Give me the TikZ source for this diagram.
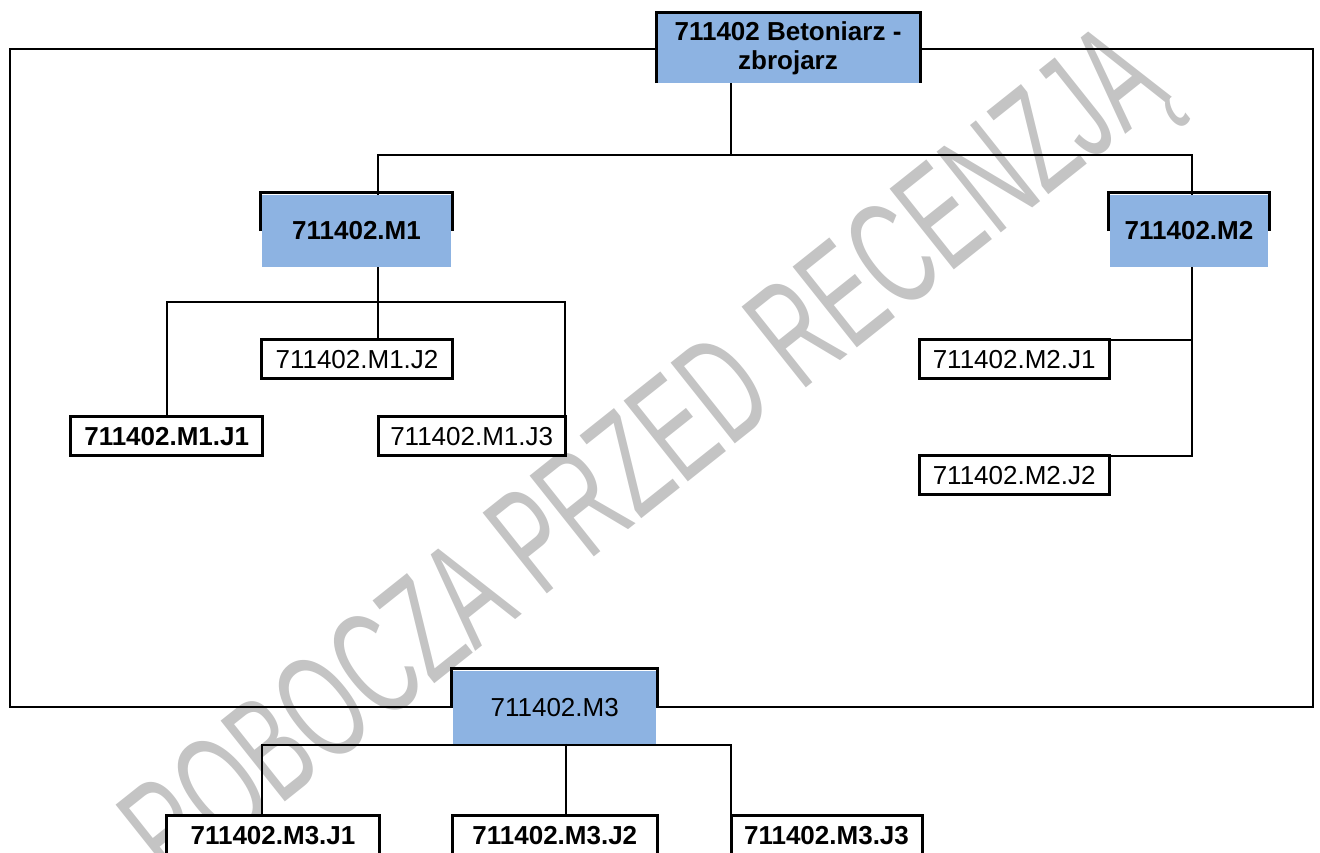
\documentclass[tikz,border=0pt]{standalone}
\usepackage{fontspec}
\setmainfont{Liberation Sans}
\newfontfamily\znakfont{Liberation Sans}[FakeStretch=0.6]
\usepackage{tikz}
\usetikzlibrary{calc,positioning}
\definecolor{modblue}{HTML}{8DB3E2}
\definecolor{znakgray}{HTML}{C4C4C4}
\newcommand{\rozmiar}{\fontsize{26}{29}\selectfont}

\tikzset{
  modul/.style={fill=modblue, inner sep=0pt, outer sep=0pt, align=center, minimum height=72.6pt},
  jedn/.style={draw, line width=3pt, fill=white, inner sep=0pt, outer sep=0pt, minimum height=39pt, font=\rozmiar},
  ramka/.style={line width=3pt},
  linia/.style={line width=2pt},
}

\begin{document}
\begin{tikzpicture}[x=1pt, y=-1pt]
\useasboundingbox (0,0) rectangle (1320,852);
\clip (0,0) rectangle (1320,852);

% znak wodny
\node[rotate=38.5, text=znakgray, font=\znakfont\fontsize{150}{150}\selectfont] (znak) at (650,465) {ROBOCZA PRZED RECENZJĄ};

% moduly
\node[modul, minimum width=262pt, minimum height=69pt, font=\rozmiar\bfseries] (root) at (788,48.5) {711402 Betoniarz -\\zbrojarz};
\node[modul, minimum width=189pt, font=\rozmiar\bfseries] (M1) at (356.5,231) {711402.M1};
\node[modul, minimum width=158pt, font=\rozmiar\bfseries] (M2) at (1189,231) {711402.M2};
\node[modul, minimum width=203pt, font=\rozmiar] (M3) at (554.7,707.2) {711402.M3};

% jednostki M1
\node[jedn, minimum width=192pt, font=\rozmiar\bfseries] (M1J1) at (166.7,436.2) {711402.M1.J1};
\node[jedn, minimum width=190.6pt] (M1J2) at (357,359.2) {711402.M1.J2};
\node[jedn, minimum width=186.7pt] (M1J3) at (471.7,436.2) {711402.M1.J3};
% jednostki M2
\node[jedn, minimum width=189.7pt] (M2J1) at (1014.2,359.3) {711402.M2.J1};
\node[jedn, minimum width=189.7pt] (M2J2) at (1014.2,475.3) {711402.M2.J2};
% jednostki M3
\node[jedn, minimum width=212.6pt, minimum height=40pt, font=\rozmiar\bfseries] (M3J1) at (273,835.7) {711402.M3.J1};
\node[jedn, minimum width=205pt, minimum height=40pt, font=\rozmiar\bfseries] (M3J2) at (554.8,835.5) {711402.M3.J2};
\node[jedn, minimum width=191pt, minimum height=40pt, font=\rozmiar\bfseries] (M3J3) at (826.5,835.5) {711402.M3.J3};

% rama
\coordinate (ramaL) at (10,400);
\coordinate (ramaP) at (1313,400);
\draw[linia] (root.west) -| (ramaL) |- (M3.west);
\draw[linia] (root.east) -| (ramaP) |- (M3.east);

% polaczenia od zawodu
\coordinate (r0) at (731,155);
\coordinate (rozL) at (378,155);
\coordinate (rozP) at (1191.5,155);
\draw[linia] (r0 |- root.south) -- (r0);
\draw[linia] (rozL |- M1.north) -- (rozL) -- (rozP) -- (rozP |- M2.north);

% M1
\coordinate (m1L) at (167.3,302.3);
\coordinate (m1S) at (378,302.3);
\coordinate (m1P) at (565,302.3);
\draw[linia] (m1S |- M1.south) -- (m1S |- M1J2.north);
\draw[linia] (m1L |- M1J1.north) -- (m1L) -- (m1P) -- (m1P |- M1J3.north);

% M2
\coordinate (m2S) at (1192.3,300);
\draw[linia] (m2S |- M2.south) -- (m2S |- M2J2.north) -- (M2J2.north east);
\draw[linia] (M2J1.north east) -- (m2S |- M2J1.north);

% M3
\coordinate (m3L) at (261.7,745);
\coordinate (m3S) at (566,745);
\coordinate (m3P) at (731,745);
\draw[linia] (m3S |- M3.south) -- (m3S |- M3J2.north);
\draw[linia] (m3L |- M3J1.north) -- (m3L) -- (m3P) -- (m3P |- M3J3.north);

% obramowania modulow
\draw[ramka] ([xshift=-1pt]root.south west) |- ([yshift=1.5pt]root.north) -| ([xshift=1pt]root.south east);
\foreach \m in {M1,M2,M3}
  \draw[ramka] ([xshift=-1.5pt]\m.west) |- ([yshift=2pt]\m.north) -| ([xshift=1.5pt]\m.east);

\end{tikzpicture}
\end{document}
